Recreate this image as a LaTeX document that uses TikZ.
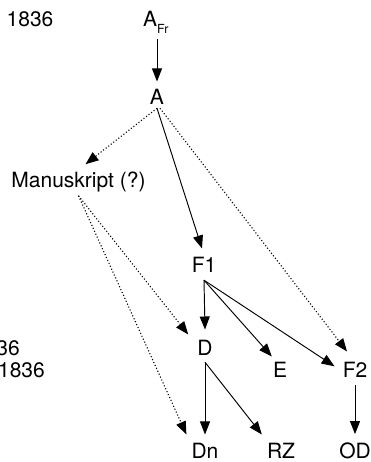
\documentclass[tikz,border=0pt]{standalone}
\usepackage{fontspec}
\setmainfont{TeX Gyre Heros}
\usetikzlibrary{arrows.meta}
\begin{document}
\begin{tikzpicture}[x=1pt,y=-1pt,
  lbl/.style={font=\fontsize{21}{24}\selectfont, inner sep=3pt, anchor=base},
  sarr/.style={-{Triangle[length=13pt,width=10pt]}, line width=0.95pt},
  darr/.style={sarr, line width=1.1pt, dash pattern=on 1.1pt off 2.1pt}]
\useasboundingbox (0,0) rectangle (370,462);
\node[lbl] (y1) at (30,27) {1836};
\node[lbl, anchor=base west] (AFr) at (140,27) {A\raisebox{-7pt}{\fontsize{12.5}{12.5}\selectfont Fr}};
\node[lbl] (A) at (157,105) {A};
\node[lbl] (M) at (78.5,188) {Manuskript (?)};
\node[lbl] (F1) at (204,272) {F1};
\node[lbl] (D) at (205,355) {D};
\node[lbl] (E) at (280,377) {E};
\node[lbl] (F2) at (355,377) {F2};
\node[lbl] (Dn) at (205,458) {Dn};
\node[lbl] (RZ) at (281,458) {RZ};
\node[lbl] (OD) at (355,458) {OD};
\node[lbl, anchor=base east] (y2) at (23,355) {36};
\node[lbl, anchor=base east] (y3) at (48,377) {1836};

\draw[sarr, shorten <=2pt, shorten >=5pt] (AFr.south -| A.north) -- (A.north);
\draw[darr] (A.south) -- ([xshift=7pt,yshift=5pt]M.north);
\draw[sarr] (A.south) -- ([xshift=-2pt,yshift=5pt]F1.north);
\draw[darr] ([xshift=3pt]A.south) -- ([xshift=-8pt,yshift=7pt]F2.north);
\draw[darr] (M.south) -- ([xshift=-6pt,yshift=2pt]D.north west);
\draw[darr] (M.south) -- ([xshift=-2pt,yshift=5pt]Dn.north west);
\draw[sarr] ([yshift=-5pt]F1.south) -- ([yshift=7pt]D.north);
\draw[sarr] ([yshift=-5pt]F1.south) -- ([xshift=2pt,yshift=2pt]E.north west);
\draw[sarr] ([yshift=-5pt]F1.south) -- ([xshift=-5pt,yshift=3pt]F2.west);
\draw[sarr] ([yshift=-4pt]D.south) -- ([yshift=5pt]Dn.north);
\draw[sarr] ([yshift=-4pt]D.south) -- ([xshift=-2pt,yshift=5pt]RZ.north west);
\draw[sarr] ([yshift=-5pt]F2.south) -- ([yshift=5pt]OD.north);
\end{tikzpicture}
\end{document}
